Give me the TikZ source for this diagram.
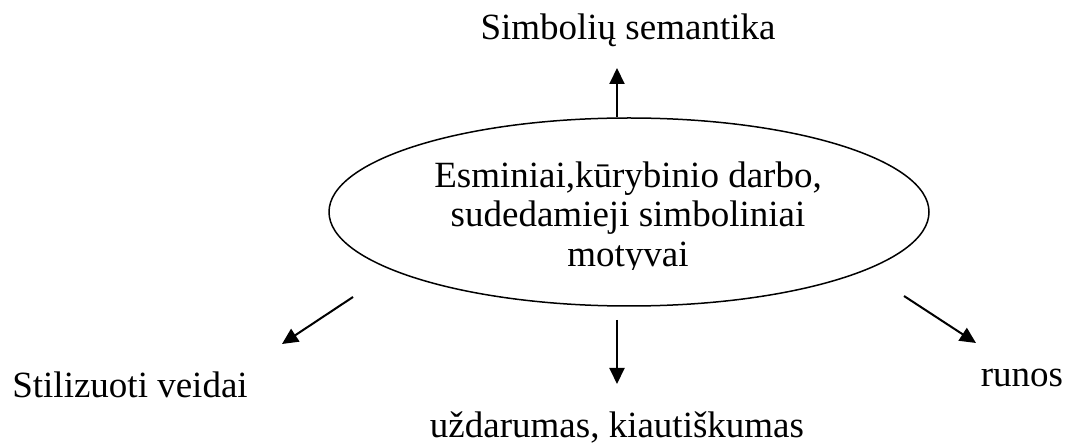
\documentclass[tikz,border=0pt]{standalone}
\usepackage{fontspec}
\setmainfont{Liberation Serif}
\usetikzlibrary{arrows.meta}
\usetikzlibrary{shapes.geometric}

\begin{document}
\begin{tikzpicture}[x=1pt,y=-1pt,
    lbl/.style={font=\fontsize{37}{39.5}\selectfont, inner sep=0pt},
    arr/.style={-{Triangle[length=16pt,width=15pt]}, line width=2pt}]
    \useasboundingbox (0,0) rectangle (1068,443);

    \node[draw, ellipse, line width=1.5pt, minimum width=600pt, minimum height=188pt,
          inner sep=0pt] (M) at (629,212) {};
    % the text box of the original cuts the last line
    \begin{scope}
        \clip (329,118) rectangle (929,270);
        \node[lbl, align=center] (T) at (628,218) {Esminiai,kūrybinio darbo,\\sudedamieji simboliniai\\motyvai};
    \end{scope}

    \node[lbl, anchor=base] (S) at (628,40) {Simbolių semantika};
    \node[lbl, anchor=base] (V) at (130,397) {Stilizuoti veidai};
    \node[lbl, anchor=base] (U) at (617,437) {uždarumas, kiautiškumas};
    \node[lbl, anchor=base] (R) at (1022,387) {runos};

    \coordinate (up0) at (617,117);
    \coordinate (up1) at (617,68);
    \coordinate (ll0) at (353,297);
    \coordinate (ll1) at (282,344);
    \coordinate (dn0) at (617,320);
    \coordinate (dn1) at (617,384);
    \coordinate (lr0) at (904,296);
    \coordinate (lr1) at (976,343);

    \draw[arr] (up0) -- (up1);
    \draw[arr] (ll0) -- (ll1);
    \draw[arr] (dn0) -- (dn1);
    \draw[arr] (lr0) -- (lr1);
\end{tikzpicture}
\end{document}
